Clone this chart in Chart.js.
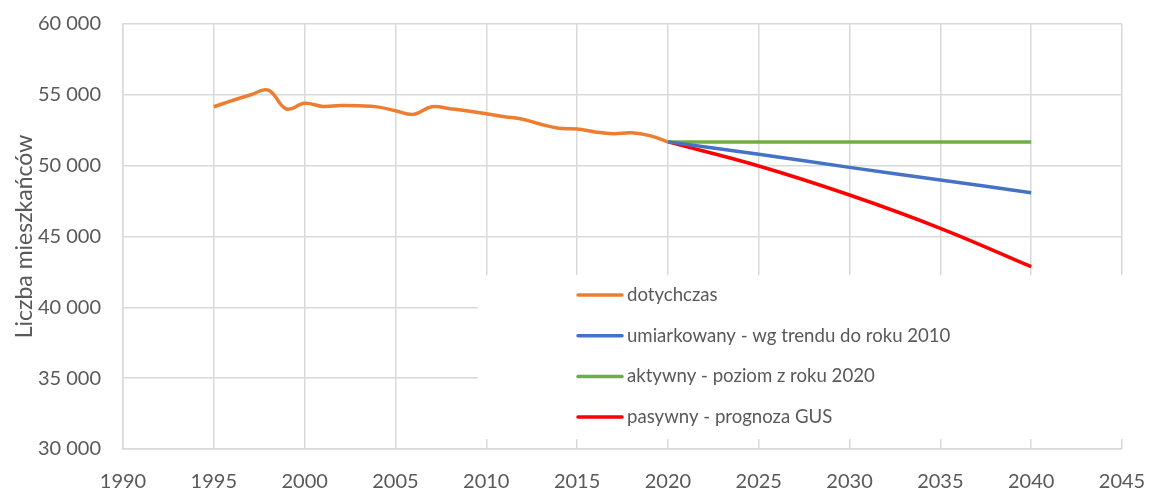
<!DOCTYPE html>
<html>
<head>
<meta charset="utf-8">
<script src="https://cdn.jsdelivr.net/npm/chart.js@4"></script>
<style>
  body { margin: 0; background: #fff; }
  #wrap { width: 1149px; height: 490px; }
</style>
</head>
<body>
<div id="wrap"><canvas id="popChart" width="1149" height="490"></canvas></div>
<script>
// dane - liczba mieszkańców
var histYears = [1995, 1996, 1997, 1998, 1999, 2000, 2001, 2002, 2003, 2004, 2005, 2006, 2007,
                 2008, 2009, 2010, 2011, 2012, 2013, 2014, 2015, 2016, 2017, 2018, 2019, 2020];
var histValues = [54160, 54590, 54990, 55330, 54000, 54400, 54180, 54250, 54230, 54150, 53880, 53620, 54160,
                  54020, 53860, 53660, 53460, 53280, 52920, 52640, 52590, 52380, 52260, 52320, 52120, 51680];

var forecastYears = [2020, 2025, 2030, 2035, 2040];
var moderateValues = [51680, 50800, 49880, 48990, 48090];
var activeValues = [51670, 51670, 51670, 51670, 51670];
var passiveValues = [51680, 49980, 47930, 45580, 42870];

var seriesLabels = ['dotychczas', 'umiarkowany - wg trendu do roku 2010', 'aktywny - poziom z roku 2020', 'pasywny - prognoza GUS'];
var seriesColors = ['#ED7D31', '#4472C4', '#70AD47', '#FF0000'];

var FONT = 'Lato, "Open Sans", sans-serif';
var TEXT_COLOR = '#595959';

function toPoints(xs, ys) {
    return xs.map(function (x, i) { return { x: x, y: ys[i] }; });
}

function spaceThousands(v) {
    return String(v).replace(/\B(?=(\d{3})+(?!\d))/g, ' ');
}

// legenda w białym prostokącie wewnątrz wykresu
var legendBox = {
    id: 'legendBox',
    afterDraw: function (chart) {
        var ctx = chart.ctx;
        ctx.save();
        ctx.fillStyle = '#ffffff';
        ctx.fillRect(478, 275, 647, 164);
        ctx.font = '18.6px ' + FONT;
        ctx.textBaseline = 'middle';
        ctx.textAlign = 'left';
        chart.data.datasets.forEach(function (ds, i) {
            var y = 295 + i * 40.7;
            ctx.strokeStyle = ds.borderColor;
            ctx.lineWidth = 3.5;
            ctx.lineCap = 'round';
            ctx.beginPath();
            ctx.moveTo(578, y);
            ctx.lineTo(622, y);
            ctx.stroke();
            ctx.fillStyle = TEXT_COLOR;
            ctx.fillText(ds.label, 627, y);
        });
        ctx.restore();
    }
};

var lineStyle = { borderWidth: 3.5, pointRadius: 0, tension: 0.4, fill: false };

var ctx = document.getElementById('popChart').getContext('2d');
var popChart = new Chart(ctx, {
    type: 'line',
    data: {
        datasets: [
            Object.assign({ label: seriesLabels[0], borderColor: seriesColors[0], data: toPoints(histYears, histValues) }, lineStyle),
            Object.assign({ label: seriesLabels[1], borderColor: seriesColors[1], data: toPoints(forecastYears, moderateValues) }, lineStyle),
            Object.assign({ label: seriesLabels[2], borderColor: seriesColors[2], data: toPoints(forecastYears, activeValues) }, lineStyle),
            Object.assign({ label: seriesLabels[3], borderColor: seriesColors[3], data: toPoints(forecastYears, passiveValues) }, lineStyle)
        ]
    },
    options: {
        responsive: false,
        animation: false,
        layout: { padding: { top: 24, right: 27, left: 0, bottom: 0 } },
        plugins: {
            legend: { display: false },
            tooltip: { enabled: false }
        },
        scales: {
            x: {
                type: 'linear',
                min: 1990,
                max: 2045,
                ticks: {
                    stepSize: 5,
                    color: TEXT_COLOR,
                    font: { family: FONT, size: 20 },
                    padding: 0,
                    callback: function (v) { return String(v); }
                },
                grid: { color: '#d9d9d9', lineWidth: 1.5, tickLength: 21, tickColor: 'rgba(0,0,0,0)' },
                border: { color: '#d9d9d9', width: 1.5 },
                afterFit: function (s) { s.height = 41; }
            },
            y: {
                min: 30000,
                max: 60000,
                ticks: {
                    stepSize: 5000,
                    color: TEXT_COLOR,
                    font: { family: FONT, size: 20 },
                    padding: 0,
                    callback: function (v) { return spaceThousands(v); }
                },
                grid: { color: '#d9d9d9', lineWidth: 1.5, tickLength: 22, tickColor: 'rgba(0,0,0,0)' },
                border: { color: '#d9d9d9', width: 1.5 },
                title: {
                    display: true,
                    text: 'Liczba mieszkańców',
                    color: TEXT_COLOR,
                    font: { family: FONT, size: 23 },
                    padding: { top: 11, bottom: 0 }
                },
                afterFit: function (s) { s.width = 123; }
            }
        }
    },
    plugins: [legendBox]
});
</script>
</body>
</html>
